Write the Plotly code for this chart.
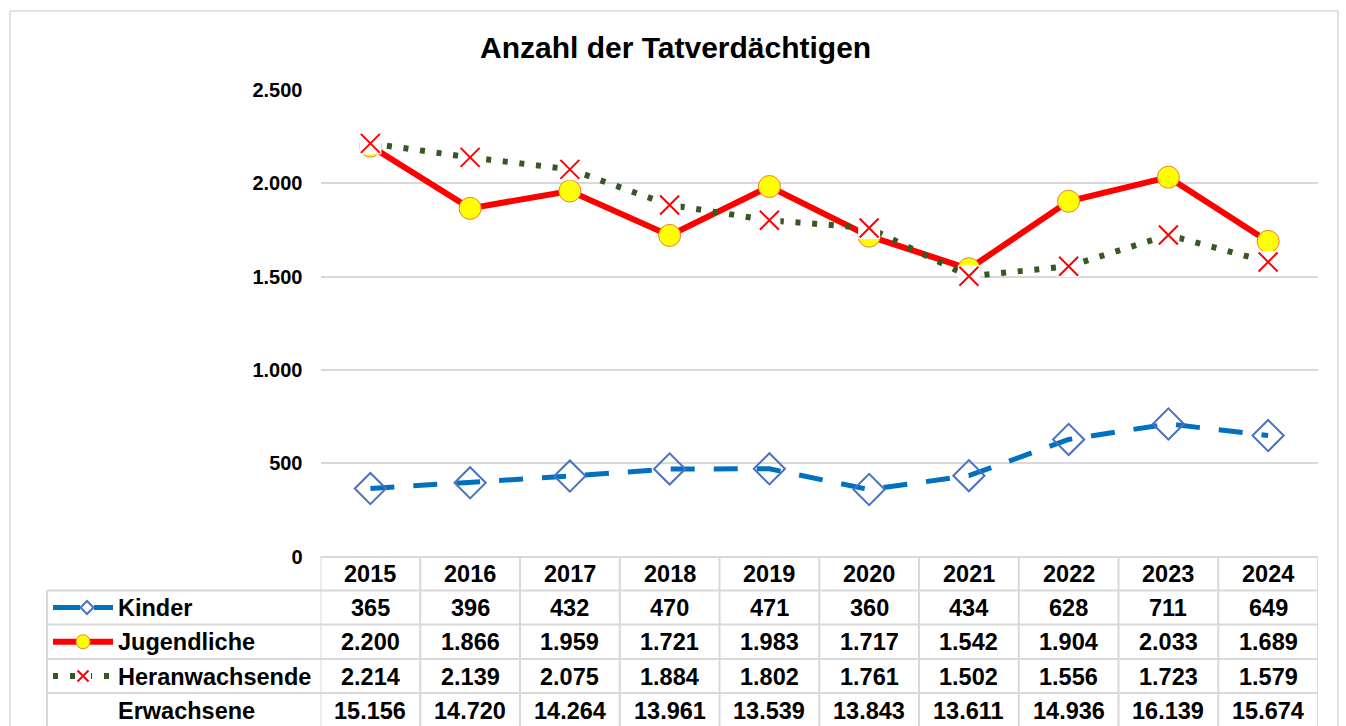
import plotly.graph_objects as go

# ---------------- data ----------------
years = ["2015", "2016", "2017", "2018", "2019", "2020", "2021", "2022", "2023", "2024"]
kinder = [365, 396, 432, 470, 471, 360, 434, 628, 711, 649]
jugendliche = [2200, 1866, 1959, 1721, 1983, 1717, 1542, 1904, 2033, 1689]
heranwachsende = [2214, 2139, 2075, 1884, 1802, 1761, 1502, 1556, 1723, 1579]
erwachsene = [15156, 14720, 14264, 13961, 13539, 13843, 13611, 14936, 16139, 15674]
series_names = ["Kinder", "Jugendliche", "Heranwachsende", "Erwachsene"]
y_ticks = [0, 500, 1000, 1500, 2000, 2500]
title_text = "Anzahl der Tatverdächtigen"

# ---------------- layout helpers ----------------
W, H = 1346, 726
FONT = "Liberation Sans, Arial, sans-serif"


def px(x):
    return x / W


def py(y):
    return 1 - y / H


def de(n):
    return f"{n:,}".replace(",", ".")


PLOT_L, PLOT_R = 320.5, 1318
PLOT_T, PLOT_B = 90, 556.7
ROW_LINES = [557, 590.5, 624.5, 659, 693, 727.5]
LEG_L = 47

BLUE = "#0070C0"
BLUE_M = "#4A72C2"
RED = "#FF0000"
GREEN = "#385723"

xs = list(range(len(years)))

fig = go.Figure()

# Kinder
fig.add_trace(go.Scatter(
    x=xs, y=kinder, mode="lines+markers", name=series_names[0],
    line=dict(color=BLUE, width=5, dash="24px,19px"),
    marker=dict(symbol="diamond-open", size=24, color=BLUE_M,
                line=dict(color=BLUE_M, width=2)),
    cliponaxis=False, showlegend=False))

# Jugendliche
fig.add_trace(go.Scatter(
    x=xs, y=jugendliche, mode="lines+markers", name=series_names[1],
    line=dict(color=RED, width=6),
    marker=dict(symbol="circle", size=22, color="#FFFF00",
                line=dict(color="#ED7D31", width=1)),
    cliponaxis=False, showlegend=False))

# Heranwachsende: line + white marker background + red X
fig.add_trace(go.Scatter(
    x=xs, y=heranwachsende, mode="lines+markers", name=series_names[2],
    line=dict(color=GREEN, width=6, dash="5px,11.7px"),
    marker=dict(symbol="square", size=22, color="white", line=dict(width=0)),
    cliponaxis=False, showlegend=False))
fig.add_trace(go.Scatter(
    x=xs, y=heranwachsende, mode="markers", name=series_names[2],
    marker=dict(symbol="x-thin", size=19, color=RED,
                line=dict(color=RED, width=2)),
    cliponaxis=False, showlegend=False))

# ---------------- legend samples in the table (pixel overlay axis) ----------------
row_centers = [(ROW_LINES[i] + ROW_LINES[i + 1]) / 2 for i in range(len(ROW_LINES) - 1)]
sx0, sx1, smid = 53, 113, 83
# Kinder sample
fig.add_trace(go.Scatter(
    x=[sx0, sx1], y=[row_centers[1]] * 2, mode="lines", xaxis="x2", yaxis="y2",
    line=dict(color=BLUE, width=5, dash="27px,14px"), showlegend=False, hoverinfo="skip"))
fig.add_trace(go.Scatter(
    x=[smid + 4], y=[row_centers[1]], mode="markers", xaxis="x2", yaxis="y2",
    marker=dict(symbol="diamond", size=10, color="white", line=dict(color=BLUE_M, width=2)),
    showlegend=False, hoverinfo="skip"))
# Jugendliche sample
fig.add_trace(go.Scatter(
    x=[sx0, sx1], y=[row_centers[2]] * 2, mode="lines", xaxis="x2", yaxis="y2",
    line=dict(color=RED, width=6), showlegend=False, hoverinfo="skip"))
fig.add_trace(go.Scatter(
    x=[smid], y=[row_centers[2]], mode="markers", xaxis="x2", yaxis="y2",
    marker=dict(symbol="circle", size=14, color="#FFFF00", line=dict(color="#ED7D31", width=1)),
    showlegend=False, hoverinfo="skip"))
# Heranwachsende sample
fig.add_trace(go.Scatter(
    x=[sx0, sx1], y=[row_centers[3]] * 2, mode="lines", xaxis="x2", yaxis="y2",
    line=dict(color=GREEN, width=6, dash="5px,12px"), showlegend=False, hoverinfo="skip"))
fig.add_trace(go.Scatter(
    x=[smid], y=[row_centers[3]], mode="markers", xaxis="x2", yaxis="y2",
    marker=dict(symbol="square", size=16, color="white", line=dict(width=0)),
    showlegend=False, hoverinfo="skip"))
fig.add_trace(go.Scatter(
    x=[smid], y=[row_centers[3]], mode="markers", xaxis="x2", yaxis="y2",
    marker=dict(symbol="x-thin", size=11, color=RED, line=dict(color=RED, width=2)),
    showlegend=False, hoverinfo="skip"))

# ---------------- shapes: frame and table grid ----------------
GRID = "#D9D9D9"
BOTTOM = 726
shapes = []
# outer frame (left, top, right)
for (x0, y0, x1, y1) in [(10, 11, 10, BOTTOM), (10, 11, 1338, 11), (1338, 11, 1338, BOTTOM)]:
    shapes.append(dict(type="line", xref="paper", yref="paper",
                       x0=px(x0), x1=px(x1), y0=py(y0), y1=py(y1),
                       line=dict(color=GRID, width=1.5)))
# header top (years only)
shapes.append(dict(type="line", xref="paper", yref="paper",
                   x0=px(PLOT_L), x1=px(PLOT_R), y0=py(ROW_LINES[0]), y1=py(ROW_LINES[0]),
                   line=dict(color=GRID, width=2)))
for yl in ROW_LINES[1:-1]:
    shapes.append(dict(type="line", xref="paper", yref="paper",
                       x0=px(LEG_L), x1=px(PLOT_R), y0=py(yl), y1=py(yl),
                       line=dict(color=GRID, width=2)))
# left border of legend column
shapes.append(dict(type="line", xref="paper", yref="paper",
                   x0=px(LEG_L), x1=px(LEG_L), y0=py(ROW_LINES[1]), y1=py(BOTTOM),
                   line=dict(color=GRID, width=2)))
# column borders
for i in range(len(years) + 1):
    shapes.append(dict(type="line", xref="x", yref="paper",
                       x0=i - 0.5, x1=i - 0.5, y0=py(ROW_LINES[0]), y1=py(BOTTOM),
                       line=dict(color=GRID, width=2)))

# ---------------- annotations: title and table text ----------------
ann = [dict(text="<b>" + title_text + "</b>", xref="paper", yref="paper",
            x=px(675), y=py(47), showarrow=False, xanchor="center", yanchor="middle",
            font=dict(family=FONT, size=30, color="black"))]
table_rows = [years,
              [de(v) for v in kinder],
              [de(v) for v in jugendliche],
              [de(v) for v in heranwachsende],
              [de(v) for v in erwachsene]]
for r, row in enumerate(table_rows):
    for i, t in enumerate(row):
        ann.append(dict(text="<b>" + t + "</b>", xref="x", yref="paper",
                        x=i, y=py(row_centers[r] + 0.5), showarrow=False,
                        xanchor="center", yanchor="middle",
                        font=dict(family=FONT, size=23.5, color="black")))
for k, name in enumerate(series_names):
    ann.append(dict(text="<b>" + name + "</b>", xref="paper", yref="paper",
                    x=px(116), y=py(row_centers[k + 1] + 0.5), showarrow=False,
                    xanchor="left", yanchor="middle",
                    font=dict(family=FONT, size=23.5, color="black")))

fig.update_layout(
    width=W, height=H, autosize=False,
    margin=dict(l=0, r=0, t=0, b=0, pad=0, autoexpand=False),
    paper_bgcolor="white", plot_bgcolor="rgba(0,0,0,0)",
    showlegend=False,
    font=dict(family=FONT, color="black"),
    xaxis=dict(domain=[px(PLOT_L), px(PLOT_R)], range=[-0.5, len(years) - 0.5],
               showgrid=False, zeroline=False, showticklabels=False, showline=False,
               ticks="", fixedrange=True, automargin=False),
    yaxis=dict(domain=[py(PLOT_B), py(PLOT_T)], range=[0, 2500],
               tickvals=y_ticks, ticktext=["<b>" + de(v) + "</b>" for v in y_ticks],
               tickfont=dict(family=FONT, size=20, color="black"),
               showgrid=True, gridcolor=GRID, gridwidth=2, zeroline=False,
               showline=False, ticks="outside", ticklen=13, tickcolor="rgba(0,0,0,0)",
               fixedrange=True, automargin=False),
    xaxis2=dict(domain=[0, 1], range=[0, W], anchor="y2", visible=False, fixedrange=True,
                automargin=False),
    yaxis2=dict(domain=[0, 1], range=[H, 0], anchor="x2", visible=False, fixedrange=True,
                automargin=False),
    shapes=shapes,
    annotations=ann,
)

fig.write_html("out.html", config={"displayModeBar": False},
               post_script="document.body.style.margin='0px';document.body.style.overflow='hidden';")
